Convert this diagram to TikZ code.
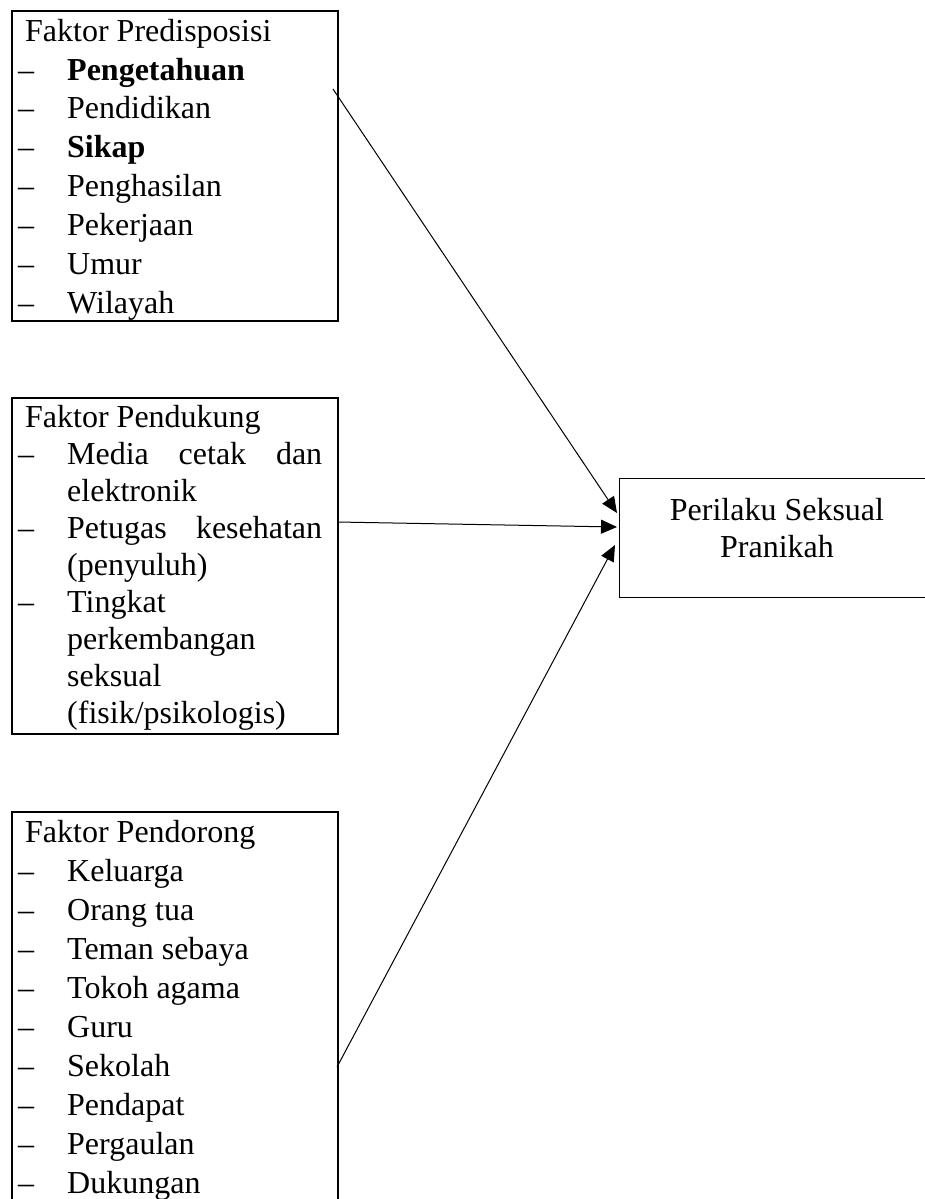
\documentclass[tikz,border=0pt]{standalone}
\usepackage{fontspec}
\setmainfont{Liberation Serif}
\usetikzlibrary{arrows.meta}
\newcommand{\itm}[1]{\par\noindent\makebox[49pt][l]{\textendash}#1}
\newcommand{\cnt}[1]{\par\noindent\hspace*{49pt}#1}
\newcommand{\jst}[1]{\par\noindent\makebox[49pt][l]{\textendash}\makebox[255pt][s]{#1}}
\newcommand{\ttl}[1]{\noindent\rule{0pt}{26pt}\hspace*{7pt}#1}
\begin{document}
\begin{tikzpicture}[x=1pt,y=-1pt,
  frame/.style={draw, line width=2pt, inner sep=0pt, anchor=north west},
  target/.style={draw, line width=1.3pt, inner sep=0pt, anchor=north west},
  txt/.style={inner sep=0pt, anchor=north west},
  link/.style={line width=1pt, -{Triangle[length=16pt,width=14pt]}}]
\useasboundingbox (0,0) rectangle (925,1199);
\clip (0,0) rectangle (925,1199);
% frames
\node[frame, minimum width=326pt, minimum height=310pt] (pre) at (11,10) {};
\node[frame, minimum width=326pt, minimum height=336pt] (sup) at (11,397) {};
\node[frame, minimum width=326pt, minimum height=420pt] (pus) at (11,811) {};
\node[target, minimum width=316pt, minimum height=119pt] (out) at (619,478) {};
% texts
\node[txt] (pretxt) at (18,15) {\parbox[t]{305pt}{\fontsize{32}{38.9}\selectfont
\ttl{Faktor Predisposisi}
\itm{\textbf{Pengetahuan}}
\itm{Pendidikan}
\itm{\textbf{Sikap}}
\itm{Penghasilan}
\itm{Pekerjaan}
\itm{Umur}
\itm{Wilayah}}};
\node[txt] (suptxt) at (18,401) {\parbox[t]{305pt}{\fontsize{32}{37}\selectfont
\ttl{Faktor Pendukung}
\jst{Media cetak dan}
\cnt{elektronik}
\jst{Petugas kesehatan}
\cnt{(penyuluh)}
\itm{Tingkat}
\cnt{perkembangan}
\cnt{seksual}
\cnt{(fisik/psikologis)}}};
\node[txt] (pustxt) at (18,816) {\parbox[t]{305pt}{\fontsize{32}{39}\selectfont
\ttl{Faktor Pendorong}
\itm{Keluarga}
\itm{Orang tua}
\itm{Teman sebaya}
\itm{Tokoh agama}
\itm{Guru}
\itm{Sekolah}
\itm{Pendapat}
\itm{Pergaulan}
\itm{Dukungan}}};
\node[txt, anchor=north] (outtxt) at (777,494) {\parbox[t]{300pt}{\centering\fontsize{32}{37}\selectfont
\rule{0pt}{26pt}Perilaku Seksual\\Pranikah}};
% connector ends
\coordinate (s1) at (333,89);
\coordinate (s2) at (337,522);
\coordinate (s3) at (337,1067);
\coordinate (t1) at (617,513);
\coordinate (t2) at (617,527);
\coordinate (t3) at (615,545);
\draw[link] (s1) -- (t1);
\draw[link] (s2) -- (t2);
\draw[link] (s3) -- (t3);
\end{tikzpicture}
\end{document}
